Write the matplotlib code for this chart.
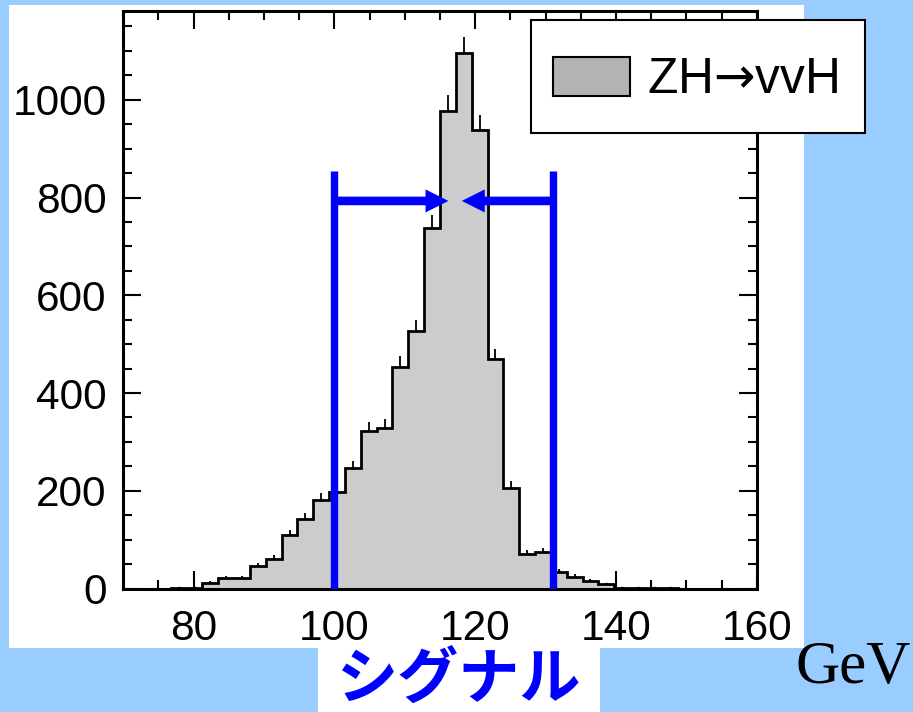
import numpy as np
import matplotlib.pyplot as plt
from matplotlib.patches import Patch, Rectangle
from matplotlib.legend_handler import HandlerPatch
from matplotlib.ticker import MultipleLocator

plt.rcParams['font.family'] = ['Liberation Sans', 'DejaVu Sans']
plt.rcParams['mathtext.fontset'] = 'dejavusans'

# reconstructed mass histogram, 2.25 GeV bins from 70 to 160
bin_lo = 70.0
bin_width = 2.25
counts = [0, 0, 0, 1, 1, 12, 21, 21, 46, 60,
          109, 142, 181, 198, 246, 322, 329, 454, 526, 738,
          978, 1096, 939, 469, 206, 71, 75, 34, 24, 15,
          9, 1, 1, 1, 1, 0, 0, 0, 0, 0]

# signal window and arrow
window = [100.0, 131.0]
window_top = 855
arrow_y = 793
arrow_tips = [116.2, 118.1]

legend_label = 'ZH$→$vvH '
xlabel_jp = 'シグナル'
unit_label = 'GeV'

bg_blue = '#99ccff'
hist_gray = '#cccccc'

counts = np.array(counts, dtype=float)
edges = bin_lo + bin_width * np.arange(len(counts) + 1)
centers = 0.5 * (edges[:-1] + edges[1:])


def box_patch(legend, orig_handle, xdescent, ydescent, width, height, fontsize):
    # keep the grey swatch short inside a taller handle box
    h = 0.77 * fontsize
    return Rectangle((-xdescent, -ydescent + (height - h) / 2), width, h)


fig = plt.figure(figsize=(9.13, 7.12), dpi=100)
fig.patch.set_facecolor(bg_blue)

W, H = 913.0, 712.0
# white panels behind plot and caption
fig.patches.append(Rectangle((9 / W, 1 - 648 / H), (804 - 9) / W, (648 - 5) / H,
                             transform=fig.transFigure, facecolor='white',
                             edgecolor='none', zorder=-5))
fig.patches.append(Rectangle((318 / W, 0), (600 - 318) / W, (712 - 648) / H,
                             transform=fig.transFigure, facecolor='white',
                             edgecolor='none', zorder=-5))

ax = fig.add_axes([123.3 / W, 1 - 588.5 / H, 633.4 / W, 577.2 / H])
ax.set_facecolor('white')
ax.set_zorder(2)

nz = counts > 0
ax.errorbar(centers[nz], counts[nz], yerr=np.sqrt(counts[nz]), fmt='.', ms=3,
            color='black', lw=1.3, capsize=0, zorder=1, clip_on=False)
ax.stairs(counts, edges, fill=True, color=hist_gray, zorder=2)
ax.stairs(counts, edges, color='black', lw=2, zorder=3)

for xv in window:
    ax.plot([xv, xv], [0, window_top], color='blue', lw=5.3, zorder=4,
            solid_capstyle='butt')
ax.annotate('', xy=(arrow_tips[0], arrow_y), xytext=(window[0], arrow_y),
            arrowprops=dict(width=6.2, headwidth=16.6, headlength=16.5,
                            shrink=0, color='blue', lw=0), zorder=4)
ax.annotate('', xy=(arrow_tips[1], arrow_y), xytext=(window[1], arrow_y),
            arrowprops=dict(width=6.2, headwidth=16.6, headlength=16.5,
                            shrink=0, color='blue', lw=0), zorder=4)

ax.set_xlim(70, 160)
ax.set_ylim(0, 1181)
ax.xaxis.set_major_locator(MultipleLocator(20))
ax.xaxis.set_minor_locator(MultipleLocator(5))
ax.yaxis.set_major_locator(MultipleLocator(200))
ax.yaxis.set_minor_locator(MultipleLocator(50))
ax.tick_params(which='both', direction='in', top=True, right=True,
               width=1.5, labelsize=30.5)
ax.tick_params(axis='x', which='both', pad=15)
ax.tick_params(axis='y', which='both', pad=12)
ax.tick_params(which='major', length=13)
ax.tick_params(which='minor', length=6.5)
for sp in ax.spines.values():
    sp.set_linewidth(2.2)

handle = Patch(facecolor='#b3b3b3', edgecolor='black', lw=1.5)
leg = ax.legend([handle], [legend_label], loc='upper left',
                bbox_to_anchor=(0.6437, 0.985), fontsize=35.7, frameon=True,
                fancybox=False, framealpha=1, edgecolor='black',
                handlelength=1.55, handleheight=1.75, handletextpad=0.34,
                borderpad=0.45, borderaxespad=0,
                handler_map={Patch: HandlerPatch(patch_func=box_patch)})
leg.get_frame().set_linewidth(1.5)
leg.set_zorder(10)

fig.text(0.503, 1 - 681 / H, xlabel_jp, ha='center', va='center', color='blue',
         fontsize=44, fontweight='bold', family=['Noto Sans CJK JP', 'DejaVu Sans'])
fig.text(795 / W, 1 - 683 / H, unit_label, ha='left', va='baseline',
         color='black', fontsize=44, family=['Liberation Serif', 'DejaVu Serif'])

fig.savefig('out.png', dpi=100, facecolor=fig.get_facecolor())
